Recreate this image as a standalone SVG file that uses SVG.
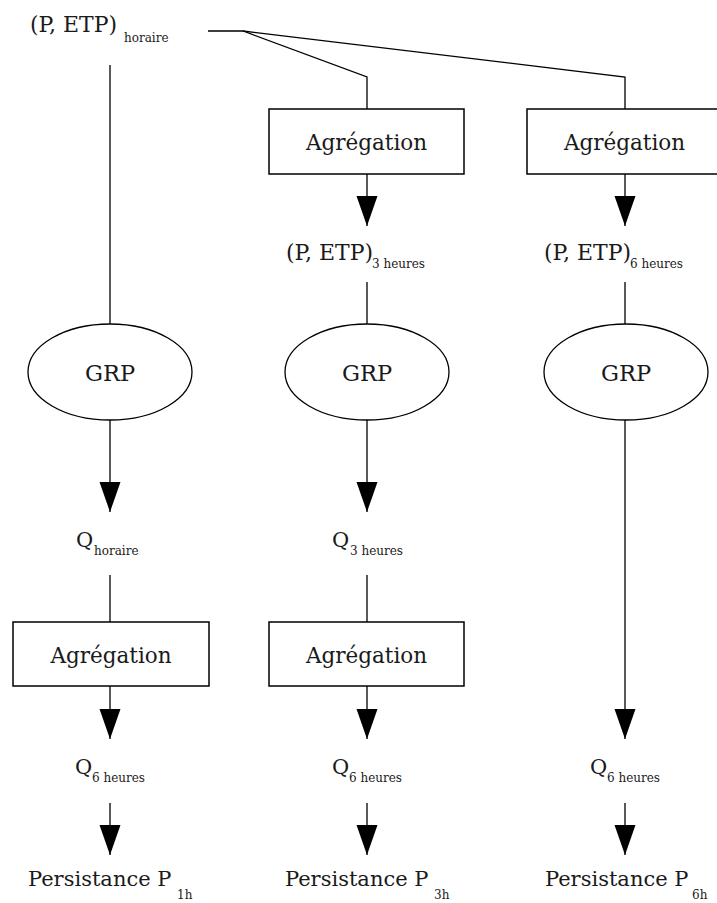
<svg xmlns="http://www.w3.org/2000/svg" width="717" height="903" viewBox="0 0 717 903">
<style>
.t{font-family:"DejaVu Serif","Liberation Serif",serif;font-size:21px;fill:#1a1a1a}
.p{font-size:22px}
.g{font-size:22.5px}
.ag{font-size:21.5px}
.s{font-family:"DejaVu Serif","Liberation Serif",serif;font-size:12px;fill:#1a1a1a}
.m{text-anchor:middle}
.box{fill:#fff;stroke:#000;stroke-width:1.5}
.ell{fill:#fff;stroke:#000;stroke-width:1.3}
.c{fill:none;stroke:#000;stroke-width:1.3}
.a{marker-end:url(#ah)}
</style>
<defs>
<marker id="ah" markerUnits="userSpaceOnUse" markerWidth="32" markerHeight="24" viewBox="0 -12 32 24" refX="30" refY="0" orient="auto">
<path d="M0,-10.5 L0,10.5 L30,0 z" fill="#000"/>
</marker>
</defs>
<rect width="717" height="903" fill="#fff"/>
<g id="connectors">
<polyline class="c" points="208,31 243,31 367,77 367,109"/>
<polyline class="c" points="243,31 625,77 625,109"/>
<line class="c" x1="110" y1="65" x2="110" y2="324"/>
<line class="c a" x1="367" y1="174" x2="367" y2="226"/>
<line class="c a" x1="625" y1="174" x2="625" y2="226"/>
<line class="c" x1="367" y1="282" x2="367" y2="324"/>
<line class="c" x1="625" y1="282" x2="625" y2="324"/>
<line class="c a" x1="110" y1="420" x2="110" y2="512"/>
<line class="c a" x1="367" y1="420" x2="367" y2="512"/>
<line class="c a" x1="625" y1="420" x2="625" y2="739"/>
<line class="c" x1="110" y1="575" x2="110" y2="622"/>
<line class="c" x1="367" y1="575" x2="367" y2="622"/>
<line class="c a" x1="110" y1="686" x2="110" y2="739"/>
<line class="c a" x1="367" y1="686" x2="367" y2="739"/>
<line class="c a" x1="110" y1="803" x2="110" y2="855"/>
<line class="c a" x1="367" y1="803" x2="367" y2="855"/>
<line class="c a" x1="625" y1="803" x2="625" y2="855"/>
</g>
<g id="input-horaire">
<text class="t p" x="30" y="32">(P, ETP)</text><text class="s" x="124" y="42">horaire</text>
</g>
<g id="agregation-3h">
<rect class="box" x="269" y="109" width="195" height="65"/>
<text class="t ag m" x="366.5" y="150">Agrégation</text>
</g>
<g id="agregation-6h">
<rect class="box" x="527" y="109" width="195" height="65"/>
<text class="t ag m" x="624.5" y="150">Agrégation</text>
</g>
<g id="input-3h">
<text class="t p" x="286" y="260">(P, ETP)</text><text class="s" x="372" y="268">3 heures</text>
</g>
<g id="input-6h">
<text class="t p" x="544" y="260">(P, ETP)</text><text class="s" x="630" y="268">6 heures</text>
</g>
<g id="grp-1h">
<ellipse class="ell" cx="110" cy="372" rx="82" ry="48"/>
<text class="t g m" x="110" y="381">GRP</text>
</g>
<g id="grp-3h">
<ellipse class="ell" cx="367" cy="372" rx="82" ry="48"/>
<text class="t g m" x="367" y="381">GRP</text>
</g>
<g id="grp-6h">
<ellipse class="ell" cx="626" cy="372" rx="82" ry="48"/>
<text class="t g m" x="626" y="381">GRP</text>
</g>
<g id="q-horaire">
<text class="t" x="76" y="547">Q</text><text class="s" x="94" y="555">horaire</text>
</g>
<g id="q-3h">
<text class="t" x="332" y="547">Q</text><text class="s" x="350" y="555">3 heures</text>
</g>
<g id="agregation-q1">
<rect class="box" x="13" y="622" width="196" height="64"/>
<text class="t ag m" x="111" y="663">Agrégation</text>
</g>
<g id="agregation-q3">
<rect class="box" x="269" y="622" width="195" height="64"/>
<text class="t ag m" x="366.5" y="663">Agrégation</text>
</g>
<g id="q6-1">
<text class="t" x="75" y="774">Q</text><text class="s" x="92" y="782">6 heures</text>
</g>
<g id="q6-2">
<text class="t" x="332" y="774">Q</text><text class="s" x="349" y="782">6 heures</text>
</g>
<g id="q6-3">
<text class="t" x="590" y="774">Q</text><text class="s" x="607" y="782">6 heures</text>
</g>
<g id="persistance-1h">
<text class="t" x="28" y="886">Persistance P</text><text class="s" x="177" y="899">1h</text>
</g>
<g id="persistance-3h">
<text class="t" x="285" y="886">Persistance P</text><text class="s" x="434" y="899">3h</text>
</g>
<g id="persistance-6h">
<text class="t" x="545" y="886">Persistance P</text><text class="s" x="692" y="899">6h</text>
</g>
</svg>
